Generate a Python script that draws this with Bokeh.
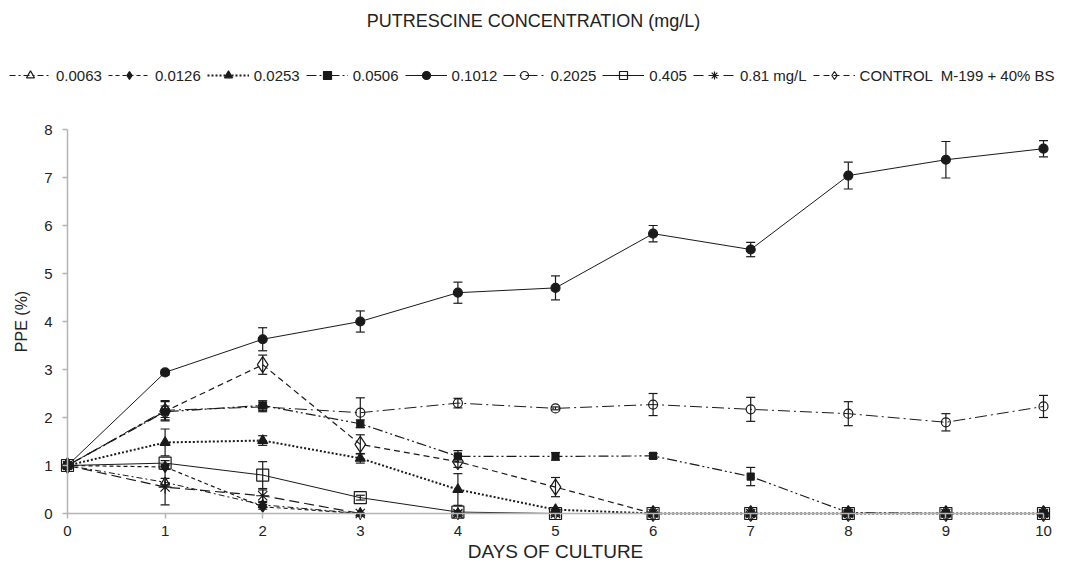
from bokeh.plotting import figure
from bokeh.models import (ColumnDataSource, Range1d, Legend, LegendItem, Whisker,
                          TeeHead, FixedTicker, Label)
from bokeh.embed import file_html
from bokeh.resources import INLINE

FONT = "Liberation Sans"

days = [0, 1, 2, 3, 4, 5, 6, 7, 8, 9, 10]

s_0063 = [1, 0.65, 0.18, 0, 0, 0, 0, 0, 0, 0, 0]
e_0063 = [0, 0.08, 0.05, 0, 0, 0, 0, 0, 0, 0, 0]
s_0126 = [1, 0.97, 0.14, 0, 0, 0, 0, 0, 0, 0, 0]
e_0126 = [0, 0.05, 0.05, 0, 0, 0, 0, 0, 0, 0, 0]
s_0253 = [1, 1.48, 1.52, 1.15, 0.5, 0.08, 0, 0, 0, 0, 0]
e_0253 = [0, 0.28, 0.1, 0.1, 0.33, 0.04, 0, 0, 0, 0, 0]
s_0506 = [1, 2.12, 2.25, 1.87, 1.19, 1.19, 1.2, 0.77, 0.02, 0, 0]
e_0506 = [0, 0.12, 0.1, 0.08, 0.12, 0.08, 0.05, 0.19, 0.03, 0, 0]
s_1012 = [1, 2.94, 3.63, 4.0, 4.6, 4.7, 5.83, 5.5, 7.04, 7.37, 7.6]
e_1012 = [0, 0.05, 0.24, 0.22, 0.22, 0.25, 0.17, 0.15, 0.28, 0.38, 0.17]
s_2025 = [1, 2.15, 2.22, 2.1, 2.3, 2.19, 2.27, 2.17, 2.08, 1.9, 2.23]
e_2025 = [0, 0.2, 0.1, 0.31, 0.1, 0.03, 0.23, 0.25, 0.25, 0.18, 0.23]
s_405 = [1, 1.05, 0.8, 0.33, 0.03, 0, 0, 0, 0, 0, 0]
e_405 = [0, 0.05, 0.28, 0.05, 0.03, 0, 0, 0, 0, 0, 0]
s_81 = [1, 0.55, 0.37, 0, 0, 0, 0, 0, 0, 0, 0]
e_81 = [0, 0.37, 0.12, 0, 0, 0, 0, 0, 0, 0, 0]
s_ctrl = [1, 2.13, 3.1, 1.44, 1.08, 0.55, 0, 0, 0, 0, 0]
e_ctrl = [0, 0.2, 0.2, 0.2, 0.12, 0.2, 0, 0, 0, 0, 0]

labels = ["0.0063", "0.0126", "0.0253", "0.0506", "0.1012", "0.2025", "0.405",
          "0.81 mg/L", "CONTROL  M-199 + 40% BS"]
values = [s_0063, s_0126, s_0253, s_0506, s_1012, s_2025, s_405, s_81, s_ctrl]
errors = [e_0063, e_0126, e_0253, e_0506, e_1012, e_2025, e_405, e_81, e_ctrl]

# style per series: (dash, line width, marker, size, filled)
styles = [
    ("6 3 2 3", 1, "triangle", 9, False),
    ("4 3", 1.2, "diamond", 11, True),
    ("2 2", 2, "triangle", 10, True),
    ("10 3 2 3 2 3", 1.2, "square", 7, True),
    ("solid", 1, "circle", 9, True),
    ("12 4 2 4", 1, "circle", 9, False),
    ("solid", 1, "square", 12, False),
    ("10 5", 1.2, "asterisk", 13, False),
    ("6 4", 1.2, "diamond", 16, False),
]

INK = "#1a1a1a"
AXIS = "#b4b4b4"
TXT = "#222222"

# the frame fills the canvas; data 0..10 -> px 67..1043, 0..8 -> px 513..129
PX_X = 97.6
PX_Y = 48.0
p = figure(width=1065, height=565, output_backend="svg", toolbar_location=None,
           title_location=None,
           x_range=Range1d(-67 / PX_X, 10 + 22 / PX_X),
           y_range=Range1d(-52 / PX_Y, 8 + 129 / PX_Y),
           min_border_left=0, min_border_right=0, min_border_top=0,
           min_border_bottom=0)
p.outline_line_color = None
p.xgrid.grid_line_color = None
p.ygrid.grid_line_color = None
p.background_fill_color = "white"
p.border_fill_color = "white"

for ax in (p.xaxis[0], p.yaxis[0]):
    ax.fixed_location = 0
    ax.axis_line_color = AXIS
    ax.axis_line_width = 1.5
    ax.major_tick_line_color = AXIS
    ax.major_tick_line_width = 1.5
    ax.major_tick_out = 5
    ax.major_tick_in = 0
    ax.minor_tick_line_color = None
    ax.major_label_text_font = FONT
    ax.major_label_text_font_size = "15px"
    ax.major_label_text_color = TXT
    ax.axis_label_text_font = FONT
    ax.axis_label_text_font_style = "normal"
    ax.axis_label_text_color = TXT

p.xaxis[0].bounds = (0, 10)
p.yaxis[0].bounds = (0, 8)
p.xaxis[0].ticker = FixedTicker(ticks=days)
p.yaxis[0].ticker = FixedTicker(ticks=[0, 1, 2, 3, 4, 5, 6, 7, 8])
p.xaxis[0].axis_label = "DAYS OF CULTURE"
p.yaxis[0].axis_label = "PPE (%)"
p.xaxis[0].axis_label_text_font_size = "19px"
p.yaxis[0].axis_label_text_font_size = "16px"
p.xaxis[0].major_label_standoff = 7
p.xaxis[0].axis_label_standoff = 2
p.yaxis[0].major_label_standoff = 10
p.yaxis[0].axis_label_standoff = 11

items = []
for lab, vals, errs, (dash, lw, mk, sz, filled) in zip(labels, values, errors, styles):
    src = ColumnDataSource(dict(x=days, y=vals,
                                lo=[v - e for v, e in zip(vals, errs)],
                                hi=[v + e for v, e in zip(vals, errs)]))
    w = Whisker(source=src, base="x", lower="lo", upper="hi",
                line_color=INK, line_width=1.2,
                upper_head=TeeHead(size=9, line_color=INK, line_width=1.2),
                lower_head=TeeHead(size=9, line_color=INK, line_width=1.2))
    p.add_layout(w)
    lr = p.line("x", "y", source=src, line_color=INK, line_width=lw, line_dash=dash)
    sr = p.scatter("x", "y", source=src, marker=mk, size=sz, line_color=INK,
                   line_width=1.2,
                   fill_color=INK if filled else None)
    items.append(LegendItem(label=lab, renderers=[lr, sr]))

legend = Legend(items=items, orientation="horizontal", location=(9, 480),
                label_text_font=FONT, label_text_font_size="15px",
                label_text_color=TXT,
                glyph_width=42, glyph_height=20, label_height=20,
                label_standoff=5, spacing=6, padding=0, margin=0,
                border_line_color=None, background_fill_alpha=0)
p.add_layout(legend)

title = Label(x=533, y=545, x_units="screen", y_units="screen",
              text="PUTRESCINE CONCENTRATION (mg/L)", text_font=FONT,
              text_font_size="18px", text_color=TXT,
              text_align="center", text_baseline="middle")
p.add_layout(title)

open("out.html", "w").write(file_html(p, INLINE))
